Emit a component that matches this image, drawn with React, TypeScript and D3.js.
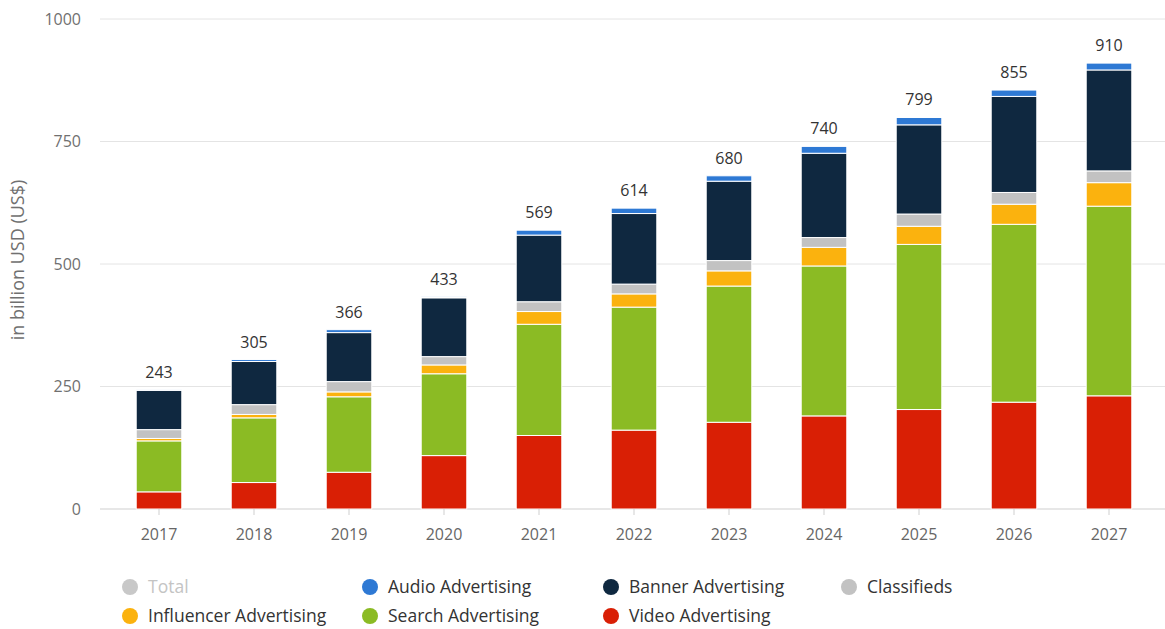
import React from "react";
import * as d3 from "d3";

const years = ["2017","2018","2019","2020","2021","2022","2023","2024","2025","2026","2027"];
const video = [35, 54, 75, 109, 150, 161, 177, 190, 203, 218, 231];
const search = [104, 132, 154, 167, 227, 251, 278, 306, 337, 363, 387];
const influencer = [5, 7, 10, 18, 26, 27, 31, 38, 37, 41, 48];
const classifieds = [18, 20, 21, 17, 20, 20, 21, 20, 25, 24, 24];
const banner = [80, 88, 100, 120, 136, 144, 162, 172, 182, 196, 206];
const audio = [1, 4, 6, 2, 10, 11, 11, 14, 15, 13, 14];
const totals = [243, 305, 366, 433, 569, 614, 680, 740, 799, 855, 910];
const yTicks = [0, 250, 500, 750, 1000];

const seriesNames = ["Video Advertising","Search Advertising","Influencer Advertising","Classifieds","Banner Advertising","Audio Advertising"];
const seriesValues = [video, search, influencer, classifieds, banner, audio];
const colors = ["#d91f05","#8bbb24","#fbb20e","#c2c2c2","#0f2840","#2e79d4"];

const legendRows = [
  [{ name: "Total", color: "#c8c8c8", text: "#c4c4c4" }, { name: "Audio Advertising", color: "#2e79d4", text: "#333" }, { name: "Banner Advertising", color: "#0f2840", text: "#333" }, { name: "Classifieds", color: "#c2c2c2", text: "#333" }],
  [{ name: "Influencer Advertising", color: "#fbb20e", text: "#333" }, { name: "Search Advertising", color: "#8bbb24", text: "#333" }, { name: "Video Advertising", color: "#d91f05", text: "#333" }],
];

export default function App() {
  const W = 1165, H = 629;
  const x = d3.scaleBand().domain(years).range([111.5, 1156.5]).paddingInner(0.52).paddingOuter(0.26);
  const y = d3.scaleLinear().domain([0, 1000]).range([509, 19]);
  const rows = years.map((yr, i) => {
    const o: any = { year: yr };
    seriesNames.forEach((n, k) => (o[n] = seriesValues[k][i]));
    return o;
  });
  const stack = d3.stack().keys(seriesNames)(rows as any);
  const font = "'Open Sans', 'Noto Sans', sans-serif";
  const legendX = [130, 370, 611, 849];
  const legendY = [587, 616];
  return (
    <svg width={W} height={H} style={{ position: "absolute", left: 0, top: 0, background: "#fff" }}>
      {yTicks.map((t) => (
        <g key={t}>
          <line x1={100} x2={W} y1={y(t)} y2={y(t)} stroke={t === 0 ? "#cfcfcf" : "#e4e4e4"} strokeWidth={1} />
          <text x={81} y={y(t)} dy="0.35em" textAnchor="end" fontSize={16} fill="#707070" fontFamily={font}>{t}</text>
        </g>
      ))}
      <text transform={`translate(24,${y(500) - 4}) rotate(-90)`} textAnchor="middle" fontSize={18} fill="#707070" fontFamily={font}>in billion USD (US$)</text>
      {stack.map((s, k) => (
        <g key={k} fill={colors[k]}>
          {s.map((d: any, i) => (
            <rect key={i} x={x(years[i])} width={x.bandwidth()} y={y(d[1])} height={Math.max(0, y(d[0]) - y(d[1]))} stroke="#fff" strokeWidth={1} />
          ))}
        </g>
      ))}
      {years.map((yr, i) => (
        <g key={yr}>
          <line x1={x(yr)! + x.bandwidth() / 2} x2={x(yr)! + x.bandwidth() / 2} y1={509} y2={515} stroke="#cfcfcf" />
          <text x={x(yr)! + x.bandwidth() / 2} y={534} dy="0.35em" textAnchor="middle" fontSize={16} fill="#666" fontFamily={font}>{yr}</text>
          <text x={x(yr)! + x.bandwidth() / 2} y={y(totals[i]) - 12} textAnchor="middle" fontSize={16} fontWeight={500} fill="#333" fontFamily={font}>{totals[i]}</text>
        </g>
      ))}
      {legendRows.map((row, r) =>
        row.map((it, c) => (
          <g key={it.name} transform={`translate(${legendX[c]},${legendY[r]})`}>
            <circle r={8} fill={it.color} />
            <text x={18} dy="0.35em" fontSize={17.5} fill={it.text} fontFamily={font}>{it.name}</text>
          </g>
        ))
      )}
    </svg>
  );
}
